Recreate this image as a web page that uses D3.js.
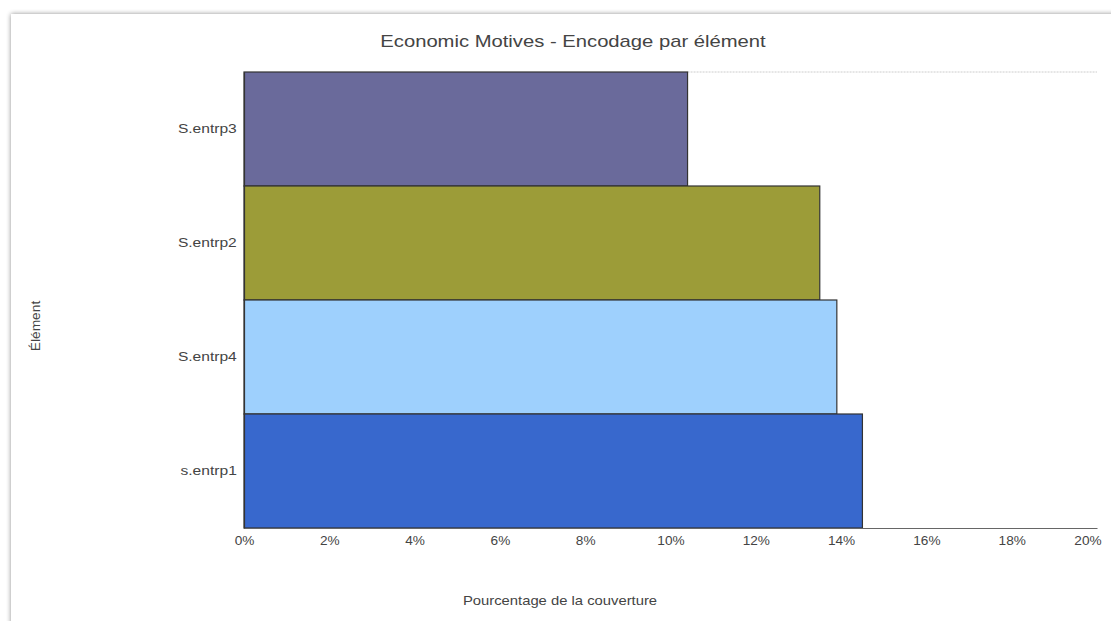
<!DOCTYPE html>
<html><head><meta charset="utf-8">
<script src="https://cdn.jsdelivr.net/npm/d3@7"></script>
<style>
html,body{margin:0;padding:0;background:#fff;}
svg{display:block;font-family:"Liberation Sans",Arial,sans-serif;}
</style></head>
<body>
<svg id="chart" width="1111" height="621"></svg>
<script>
const categories = ["S.entrp3", "S.entrp2", "S.entrp4", "s.entrp1"];
const values = [10.4, 13.5, 13.9, 14.5];
const colors = ["#6a6a9b", "#9c9c38", "#9ed0fd", "#3868cd"];
const xTicks = [0, 2, 4, 6, 8, 10, 12, 14, 16, 18, 20];
const title = "Economic Motives - Encodage par élément";
const xTitle = "Pourcentage de la couverture";
const yTitle = "Élément";

(function(){
const svg = d3.select("#chart");
const defs = svg.append("defs");
const f = defs.append("filter").attr("id","sh").attr("x","-5%").attr("y","-5%").attr("width","110%").attr("height","110%");
f.append("feGaussianBlur").attr("in","SourceAlpha").attr("stdDeviation",2.5);
f.append("feOffset").attr("dx",0).attr("dy",0).attr("result","b");
f.append("feComponentTransfer").append("feFuncA").attr("type","linear").attr("slope",0.45);
const m = f.append("feMerge"); m.append("feMergeNode"); m.append("feMergeNode").attr("in","SourceGraphic");

svg.append("rect").attr("x",11).attr("y",14).attr("width",1130).attr("height",640)
  .attr("fill","#fff").attr("filter","url(#sh)");

const pL = 244, pR = 1097, pT = 72, pB = 528;
const x = d3.scaleLinear().domain([0, 20]).range([pL, pR]);
const y = d3.scaleBand().domain(categories).range([pT, pB]).padding(0);

svg.append("line").attr("x1", x(values[0])).attr("x2", pR).attr("y1", pT).attr("y2", pT)
  .attr("stroke","#ccc").attr("stroke-width",1).attr("stroke-dasharray","2,1");

svg.selectAll("rect.bar").data(categories).enter().append("rect")
  .attr("class","bar")
  .attr("x", x(0))
  .attr("y", d => y(d))
  .attr("width", (d,i) => x(values[i]) - x(0))
  .attr("height", y.bandwidth())
  .attr("fill", (d,i) => colors[i])
  .attr("stroke", "#333")
  .attr("stroke-width", 1.2);

const xAxis = d3.axisBottom(x).tickValues(xTicks).tickFormat(d => d + "%").tickSize(0).tickPadding(8);
const gx = svg.append("g").attr("transform", `translate(0,${pB})`).call(xAxis);
gx.select(".domain").attr("stroke","#666").attr("stroke-width",1.2);
gx.selectAll("text").attr("fill","#444").style("font-size","13px").style("font-family","'Liberation Sans',Arial,sans-serif")
  .attr("transform","scale(1.05,1)");
gx.selectAll(".tick").filter(d => d === 20).select("text").attr("text-anchor","end").attr("dx","0.3em");

const yAxis = d3.axisLeft(y).tickSize(0).tickPadding(6);
const gy = svg.append("g").attr("transform", `translate(${pL},0)`).call(yAxis);
gy.select(".domain").attr("stroke","#333").attr("stroke-width",1.2);
gy.selectAll("text").attr("fill","#444").style("font-size","13px").style("font-family","'Liberation Sans',Arial,sans-serif")
  .attr("transform","scale(1.2,1)");

svg.append("text").attr("transform","translate(573,47) scale(1.19,1)").attr("text-anchor","middle")
  .attr("fill","#444").style("font-size","17px").text(title);
svg.append("text").attr("transform","translate(560,605) scale(1.14,1)").attr("text-anchor","middle")
  .attr("fill","#444").style("font-size","13px").text(xTitle);
svg.append("text").attr("transform","translate(40,326) rotate(-90) scale(1.15,1)").attr("text-anchor","middle")
  .attr("fill","#444").style("font-size","12px").text(yTitle);
})();
</script>
</body></html>
